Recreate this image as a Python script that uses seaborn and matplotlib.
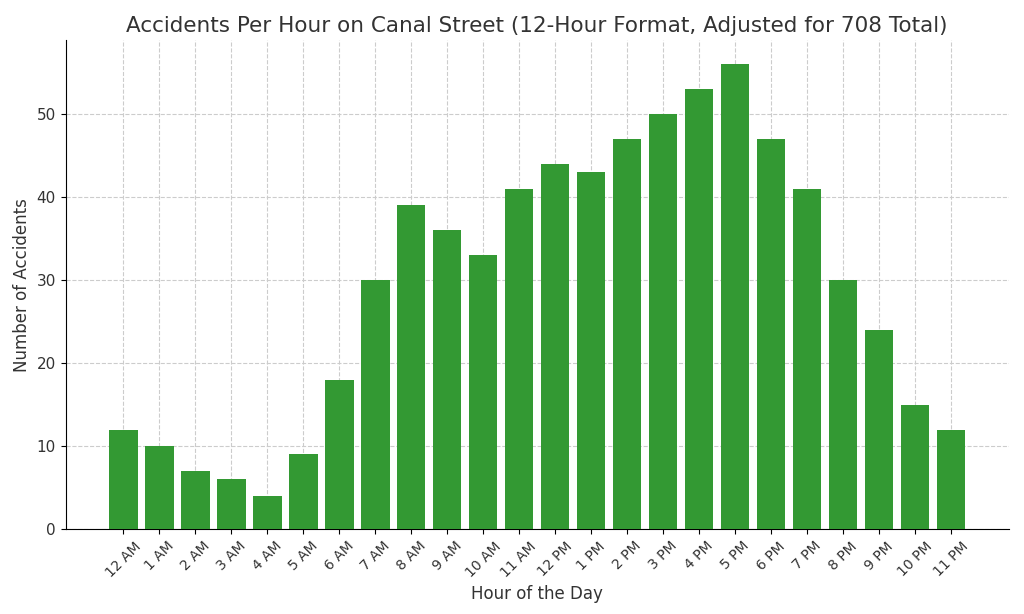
import matplotlib
matplotlib.use("Agg")
import matplotlib.pyplot as plt
import seaborn as sns
import pandas as pd

hours = ["12 AM","1 AM","2 AM","3 AM","4 AM","5 AM","6 AM","7 AM","8 AM","9 AM","10 AM","11 AM",
         "12 PM","1 PM","2 PM","3 PM","4 PM","5 PM","6 PM","7 PM","8 PM","9 PM","10 PM","11 PM"]
accidents = [12,10,7,6,4,9,18,30,39,36,33,41,44,43,47,50,53,56,47,41,30,24,15,12]

df = pd.DataFrame({"hour": hours, "n": accidents})
fig = plt.figure(figsize=(10.24, 6.14), dpi=100)
ax = fig.add_axes([0.064, 0.138, 0.921, 0.797])
sns.barplot(data=df, x="hour", y="n", color="#339933", saturation=1, width=0.8, ax=ax, zorder=3)
ax.grid(True, linestyle="--", color="#cccccc", linewidth=0.8, zorder=0)
ax.set_axisbelow(True)
ax.set_xlim(-1.6, 24.6)
ax.set_ylim(0, 58.9)
for s in ["top", "right"]:
    ax.spines[s].set_visible(False)
ax.set_title("Accidents Per Hour on Canal Street (12-Hour Format, Adjusted for 708 Total)", fontsize=15.5, color="#333333")
ax.set_xlabel("Hour of the Day", fontsize=12, color="#333333")
ax.set_ylabel("Number of Accidents", fontsize=12, color="#333333")
plt.setp(ax.get_xticklabels(), rotation=45, fontsize=10, color="#333333")
plt.setp(ax.get_yticklabels(), fontsize=11, color="#333333")
fig.savefig("out.png", dpi=100)
